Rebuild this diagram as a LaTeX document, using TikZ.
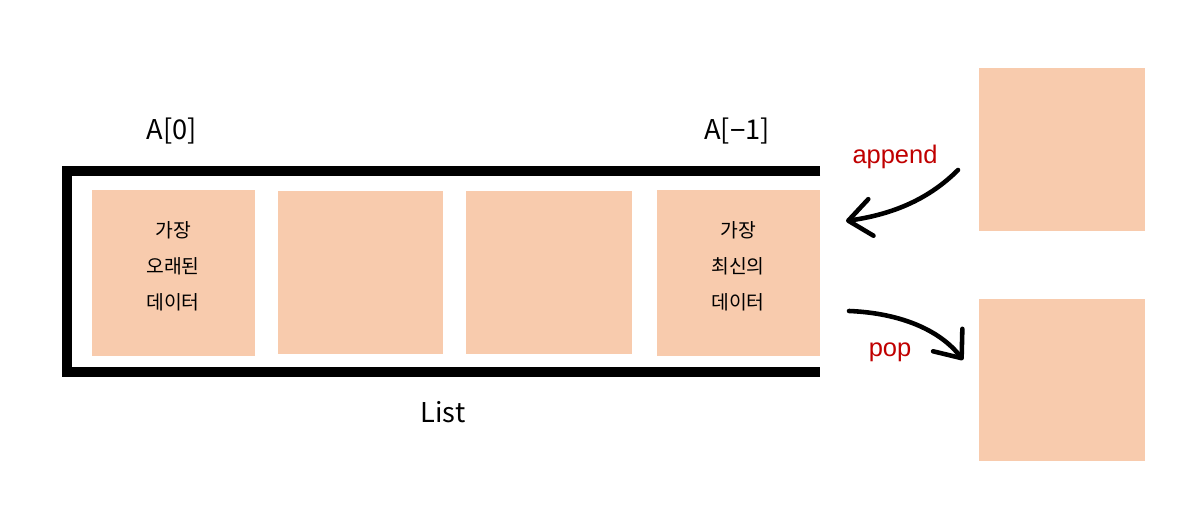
\documentclass[tikz,border=0pt]{standalone}
\usepackage{fontspec}
\setmainfont{Noto Sans CJK KR}
\newfontfamily\opfont{Liberation Sans}
\usetikzlibrary{arrows.meta}
\definecolor{peach}{HTML}{F8CBAD}
\definecolor{opred}{HTML}{C00000}
\tikzset{
      frame/.style  = { line width=5.7pt, miter limit=10 },
      cell/.style   = { fill=peach, minimum width=3.28cm, minimum height=3.32cm, inner sep=0pt },
      data/.style   = { align=center, font=\fontsize{11}{20.5}\selectfont },
      index/.style  = { font=\fontsize{15.5}{18}\selectfont },
      op/.style     = { text=opred, font=\opfont\fontsize{14.5}{17}\selectfont },
      move/.style   = { line width=2.6pt, line cap=round,
                        -{Straight Barb[round, length=13pt, width=21pt]} }
    }
\begin{document}
\begin{tikzpicture}[x=0.02cm, y=-0.02cm]
      \useasboundingbox (0,0) rectangle (1201,519);

      % Draw the list frame
      \draw[frame] (820,171) -- (67,171) -- (67,372) -- (820,372);

      % Draw all cells
      \node[cell] (c1) at (173.5,273) {};
      \node[cell, minimum width=3.3cm, minimum height=3.26cm] (c2) at (360.5,272.5) {};
      \node[cell, minimum width=3.32cm, minimum height=3.26cm] (c3) at (549,272.5) {};
      \node[cell] (c4) at (738.5,273) {};
      \node[cell, minimum width=3.32cm, minimum height=3.26cm] (r1) at (1062,149.5) {};
      \node[cell, minimum width=3.32cm, minimum height=3.24cm] (r2) at (1062,380) {};

      \node[data] (t1) at (173,266) {가장\\오래된\\데이터};
      \node[data] (t4) at (738,266) {가장\\최신의\\데이터};

      % Draw labels
      \node[index] (first) at (172,131) {A[0]};
      \node[index] (last)  at (737,131) {A[\opfont −\normalfont 1]};
      \node[index] (name)  at (443,412) {List};
      \node[op] (app) at (895,157) {append};
      \node[op] (pop) at (890,352) {pop};

      % Draw arrows
      \coordinate (appS) at (958,170);
      \coordinate (appE) at (846,221);
      \coordinate (popS) at (849,311);
      \coordinate (popE) at (963,360);
      \draw[move] (appS) .. controls (930,198) and (895,214) .. (appE);
      \draw[move] (popS) .. controls (900,313) and (940,330) .. (popE);
\end{tikzpicture}
\end{document}
